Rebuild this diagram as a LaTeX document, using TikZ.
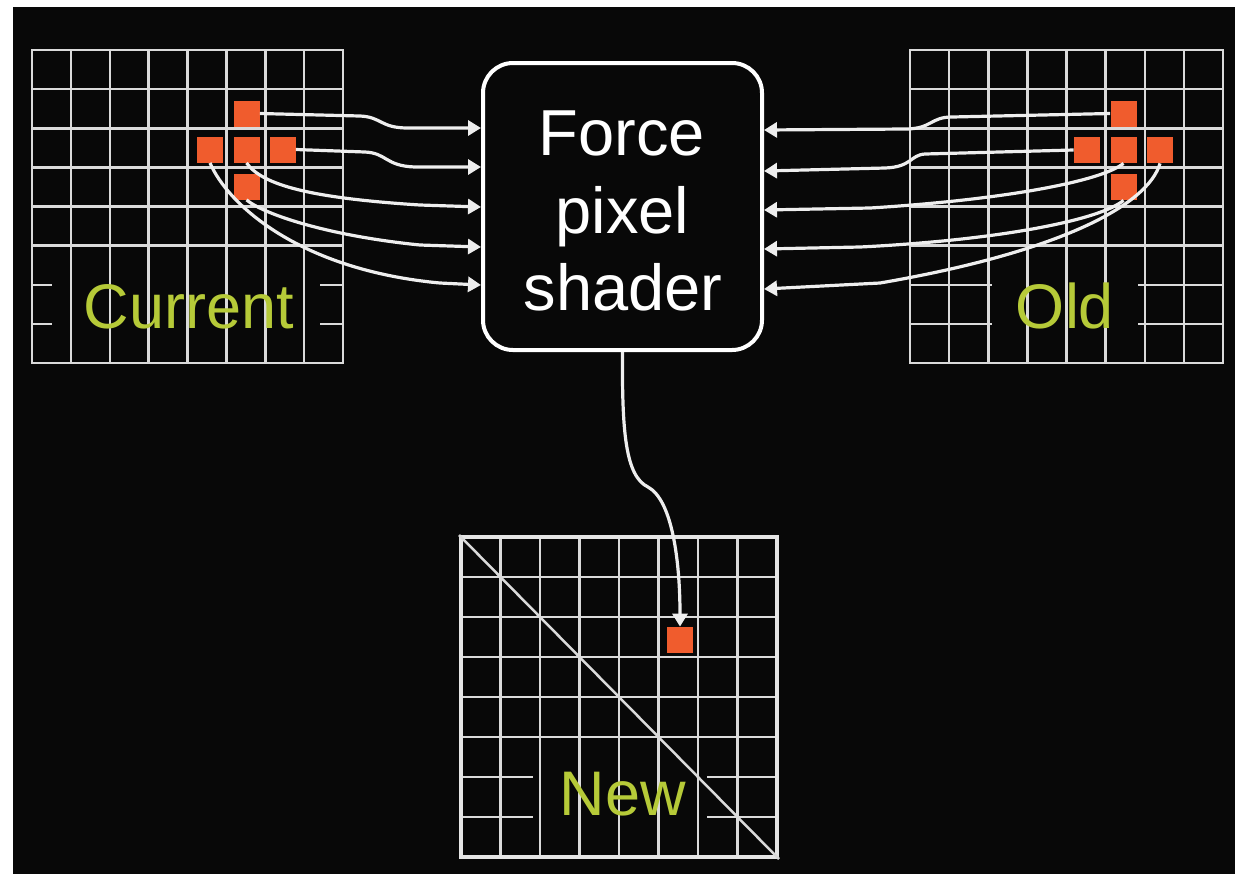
\documentclass[tikz,border=0pt]{standalone}
\usepackage{fontspec}
\setmainfont{Liberation Sans}
\usetikzlibrary{arrows.meta,calc}
\definecolor{bg}{RGB}{8,8,8}
\definecolor{gridc}{RGB}{218,218,218}
\definecolor{pxc}{RGB}{240,92,45}
\definecolor{lab}{RGB}{182,202,56}
\definecolor{wire}{RGB}{238,238,238}
\begin{document}
\begin{tikzpicture}[x=0.5pt,y=-0.5pt,
  gridline/.style={draw=gridc, line width=1.25pt},
  gridframe/.style={draw=gridc, line width=1.4pt},
  newframe/.style={draw=gridc!70!white, line width=2pt},
  pxsq/.style={fill=pxc, draw=none, minimum size=13pt, inner sep=0pt},
  shaderbox/.style={draw=white, line width=2pt, fill=bg, rounded corners=15pt,
    minimum width=139.5pt, minimum height=143.5pt, inner sep=0pt},
  boxtxt/.style={text=white, font=\fontsize{32.5pt}{39pt}\selectfont, inner sep=0pt, anchor=base},
  lbl/.style={text=lab, font=\fontsize{31.5pt}{38pt}\selectfont, inner sep=0pt, anchor=base},
  conn/.style={draw=wire, line width=1.6pt, -{Triangle[length=6.5pt,width=7.5pt]}}
]
\useasboundingbox (0,0) rectangle (1235,874);
\fill[white] (0,0) rectangle (1235,874);
\fill[bg] (13,7) rectangle (1235,874);

% ---------- Current grid ----------
\foreach \i in {1,...,7} \draw[gridline] ({32+\i*38.875},50) -- ({32+\i*38.875},363);
\foreach \j in {1,...,5} \draw[gridline] (32,{50+\j*39.125}) -- (343,{50+\j*39.125});
\foreach \j in {6,7} {
  \draw[gridline] (32,{50+\j*39.125}) -- (52,{50+\j*39.125});
  \draw[gridline] (320,{50+\j*39.125}) -- (343,{50+\j*39.125});
}
\node[gridframe, minimum width=155.5pt, minimum height=156.5pt, inner sep=0pt] (curgrid) at (187.5,206.5) {};

% ---------- Old grid ----------
\foreach \i in {1,...,7} \draw[gridline] ({910+\i*39.125},50) -- ({910+\i*39.125},363);
\foreach \j in {1,...,5} \draw[gridline] (910,{50+\j*39.125}) -- (1223,{50+\j*39.125});
\foreach \j in {6,7} {
  \draw[gridline] (910,{50+\j*39.125}) -- (992,{50+\j*39.125});
  \draw[gridline] (1138,{50+\j*39.125}) -- (1223,{50+\j*39.125});
}
\node[gridframe, minimum width=156.5pt, minimum height=156.5pt, inner sep=0pt] (oldgrid) at (1066.5,206.5) {};

% ---------- New grid ----------
\foreach \i in {1,...,7} \draw[gridline] ({461+\i*39.5},537) -- ({461+\i*39.5},857);
\foreach \j in {1,...,5} \draw[gridline] (461,{537+\j*40}) -- (777,{537+\j*40});
\foreach \j in {6,7} {
  \draw[gridline] (461,{537+\j*40}) -- (533,{537+\j*40});
  \draw[gridline] (707,{537+\j*40}) -- (777,{537+\j*40});
}
\node[newframe, minimum width=158pt, minimum height=160pt, inner sep=0pt] (newgrid) at (619,697) {};
\draw[gridline] (newgrid.north west) -- (newgrid.south east);

% ---------- pixels ----------
\node[pxsq] (cT) at (246.5,113.5) {};
\node[pxsq] (cL) at (210,149.5) {};
\node[pxsq] (cC) at (246.5,149.5) {};
\node[pxsq] (cR) at (282.5,149.5) {};
\node[pxsq] (cB) at (246.5,186.5) {};

\node[pxsq] (dT) at (1123.5,113.5) {};
\node[pxsq] (dL) at (1087,150) {};
\node[pxsq] (dC) at (1123.5,150) {};
\node[pxsq] (dR) at (1160,150) {};
\node[pxsq] (dB) at (1123.5,187) {};

\node[pxsq] (nP) at (680,640) {};

% ---------- shader box ----------
\node[shaderbox] (fps) at (622.5,206.5) {};
\node[boxtxt] (t1) at (622,155) {Force};
\node[boxtxt] (t2) at (622.5,233) {pixel};
\node[boxtxt] (t3) at (623,310) {shader};

% ---------- connectors: Current -> shader ----------
\draw[conn] (cT.east) -- (360,116) .. controls (382,117) and (380,128) .. (408,128) -- ($(fps.west)+(0,-78.5)$);
\draw[conn] (cR.east) -- (365,152) .. controls (387,153) and (385,166) .. (415,167) -- ($(fps.west)+(0,-39.5)$);
\draw[conn] (cC.south) .. controls (262,185) and (310,198) .. (420,205) -- ($(fps.west)+(0,0.5)$);
\draw[conn] (cB.south) .. controls (265,215) and (330,236) .. (420,245) -- ($(fps.west)+(0,40.5)$);
\draw[conn] (cL.south) .. controls (228,205) and (300,270) .. (440,283) -- ($(fps.west)+(0,78.5)$);

% ---------- connectors: Old -> shader ----------
\draw[conn] (dT.west) -- (952,117) .. controls (930,117) and (932,129) .. (905,129) -- ($(fps.east)+(0,-76.5)$);
\draw[conn] (dL.west) -- (925,154) .. controls (910,155) and (912,167) .. (885,168) -- ($(fps.east)+(0,-35.5)$);
\draw[conn] (dC.south) .. controls (1100,182) and (1000,200) .. (870,208) -- ($(fps.east)+(0,3.5)$);
\draw[conn] (dB.south) .. controls (1100,220) and (1000,240) .. (860,247) -- ($(fps.east)+(0,42.5)$);
\draw[conn] (dR.south) .. controls (1148,205) and (1060,252) .. (880,283) -- ($(fps.east)+(0,82.5)$);

% ---------- shader -> New ----------
\draw[conn] (fps.south) .. controls (622,430) and (625,476) .. (648,487) .. controls (672,500) and (680,560) .. (nP.north);

% ---------- labels ----------
\node[lbl] (curlab) at (189,328) {Current};
\node[lbl] (oldlab) at (1065,328) {Old};
\node[lbl] (newlab) at (623,815) {New};
\end{tikzpicture}
\end{document}
